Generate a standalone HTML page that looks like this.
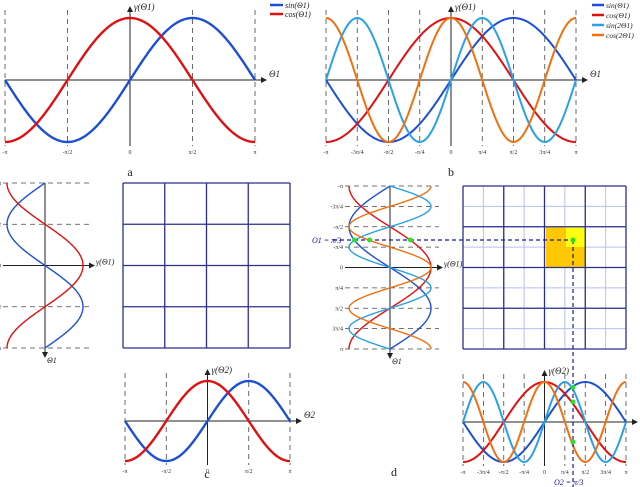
<!DOCTYPE html>
<html><head><meta charset="utf-8"><style>
body{margin:0;background:#fff;width:640px;height:487px;overflow:hidden}
svg{display:block;font-family:"Liberation Serif",serif}
</style></head><body>
<svg id="s" width="640" height="487" viewBox="0 0 640 487"></svg>
<script>
const ticks5=["-π","-π/2","0","π/2","π"];
const ticks9=["-π","-3π/4","-π/2","-π/4","0","π/4","π/2","3π/4","π"];
const seriesNames=["sin(Θ1)","cos(Θ1)","sin(2Θ1)","cos(2Θ1)"];
const seriesColors=["#1d4fd6","#e01010","#2aa0e8","#f07010"];
const freqs=[1,1,2,2];
const phase=["sin","cos","sin","cos"];
const selTheta=Math.PI/3;
const S=document.getElementById('s');const NS="http://www.w3.org/2000/svg";
function el(t,a,p){const e=document.createElementNS(NS,t);for(const k in a)e.setAttribute(k,a[k]);(p||S).appendChild(e);return e;}
function f(i,t){return phase[i]=="sin"?Math.sin(freqs[i]*t):Math.cos(freqs[i]*t);}
function txt(x,y,s,sz,col,anchor){const e=el('text',{x:x,y:y,'font-size':sz,fill:col||'#222','text-anchor':anchor||'middle','font-style':'italic'});e.textContent=s;return e;}
function plotH(name,x0,x1,y0,amp,n,ticks,yl,xl){
 const g=el('g',{});
 const X=t=>x0+(t+Math.PI)/(2*Math.PI)*(x1-x0);const Y=v=>y0-v*amp;
 ticks.forEach((tk,k)=>{const t=-Math.PI+k*2*Math.PI/(ticks.length-1);const x=X(t);
  if(Math.abs(t)>1e-6)el('line',{x1:x,x2:x,y1:y0-amp-8,y2:y0+amp+4,stroke:'#444','stroke-dasharray':'5,4','stroke-width':0.8},g);
  const e=txt(x,y0+amp+12,tk,6,'#333');e.setAttribute('font-style','normal');g.appendChild(e);});
 el('line',{x1:x0,x2:x1+10,y1:y0,y2:y0,stroke:'#222','stroke-width':1},g);
 el('line',{x1:X(0),x2:X(0),y1:y0+amp+4,y2:y0-amp-10,stroke:'#222','stroke-width':1},g);
 el('path',{d:`M${x1+12},${y0} l-6,-3 v6z`,fill:'#222'},g);
 el('path',{d:`M${X(0)},${y0-amp-12} l-3,6 h6z`,fill:'#222'},g);
 g.appendChild(txt(X(0)+4,y0-amp-8,yl,9,'#222','start'));
 g.appendChild(txt(x1+14,y0-3,xl,9,'#222','start'));
 for(let i=0;i<n;i++){let d='';for(let j=0;j<=200;j++){const t=-Math.PI+j*2*Math.PI/200;d+=(j?'L':'M')+X(t).toFixed(2)+','+Y(f(i,t)).toFixed(2);}
  const p=el('path',{d:d,fill:'none',stroke:seriesColors[i],'stroke-width':n>2?2:2.4},g);}
 return {X,Y,g};
}
function plotV(name,y0,y1,x0,amp,n,ticks){
 const g=el('g',{});
 const Yt=t=>y0+(t+Math.PI)/(2*Math.PI)*(y1-y0);const Xv=v=>x0+v*amp;
 ticks.forEach((tk,k)=>{const t=-Math.PI+k*2*Math.PI/(ticks.length-1);const y=Yt(t);
  if(Math.abs(t)>1e-6)el('line',{x1:x0-amp-4,x2:x0+amp+8,y1:y,y2:y,stroke:'#444','stroke-dasharray':'5,4','stroke-width':0.8},g);
  const e=txt(x0-amp-6,y+2,tk,6,'#333','end');e.setAttribute('font-style','normal');g.appendChild(e);});
 el('line',{x1:x0-amp-4,x2:x0+amp+10,y1:Yt(0),y2:Yt(0),stroke:'#222'},g);
 el('line',{x1:x0,x2:x0,y1:y0,y2:y1+8,stroke:'#222'},g);
 el('path',{d:`M${x0+amp+12},${Yt(0)} l-6,-3 v6z`,fill:'#222'},g);
 el('path',{d:`M${x0},${y1+10} l-3,-6 h6z`,fill:'#222'},g);
 g.appendChild(txt(x0+amp+13,Yt(0)-1,'γ(Θ1)',8,'#222','start'));
 g.appendChild(txt(x0+2,y1+15,'Θ1',8,'#222','start'));
 for(let i=0;i<n;i++){let d='';for(let j=0;j<=200;j++){const t=-Math.PI+j*2*Math.PI/200;d+=(j?'L':'M')+Xv(f(i,t)).toFixed(2)+','+Yt(t).toFixed(2);}
  const p=el('path',{d:d,fill:'none',stroke:seriesColors[i],'stroke-width':1.4},g);}
 return {Yt,Xv,g};
}
function grid(name,x0,y0,w,h,fine){
 const g=el('g',{});
 if(fine)for(let k=1;k<8;k++){el('line',{x1:x0+k*w/8,x2:x0+k*w/8,y1:y0,y2:y0+h,stroke:'#b8bff0'},g);el('line',{y1:y0+k*h/8,y2:y0+k*h/8,x1:x0,x2:x0+w,stroke:'#b8bff0'},g);}
 return g;
}
function gridDark(g,x0,y0,w,h){for(let k=0;k<=4;k++){el('line',{x1:x0+k*w/4,x2:x0+k*w/4,y1:y0,y2:y0+h,stroke:'#2a2f8f','stroke-width':1.3},g);el('line',{y1:y0+k*h/4,y2:y0+k*h/4,x1:x0,x2:x0+w,stroke:'#2a2f8f','stroke-width':1.3},g);}}
plotH('panel-a',5,255,80,62,2,ticks5,'γ(Θ1)','Θ1');
txt(130,176,'a',12,'#222').setAttribute('font-style','normal');
[0,1].forEach(i=>{el('line',{x1:270,x2:283,y1:5+i*9,y2:5+i*9,stroke:seriesColors[i],'stroke-width':2.5});txt(285,8+i*9,seriesNames[i],8,'#222','start');});
plotH('panel-b',326,576,80,62,4,ticks9,'γ(Θ1)','Θ1');
txt(451,176,'b',12,'#222').setAttribute('font-style','normal');
[0,1,2,3].forEach(i=>{el('line',{x1:592,x2:604,y1:5+i*10,y2:5+i*10,stroke:seriesColors[i],'stroke-width':2.5});txt(606,8+i*10,seriesNames[i],7.5,'#222','start');});
plotV('panel-c-left',183,348,45,38,2,ticks5);
const gc=grid('grid-c',123,183,167,165,false);gridDark(gc,123,183,167,165);
plotH('panel-c-bottom',125,290,421,40,2,ticks5,'γ(Θ2)','Θ2');
txt(207,478,'c',12,'#222').setAttribute('font-style','normal');
const vd=plotV('panel-d-left',186,349,390,41,4,ticks9);
const gd=grid('grid-d',463,186,163,163,true);
el('rect',{x:546,y:227,width:40,height:40,fill:'#ffc800'},gd);
el('rect',{x:566,y:227,width:20,height:20,fill:'#ffff10'},gd);
gridDark(gd,463,186,163,163);
const hd=plotH('panel-d-bottom',463,626,422,40,4,ticks9,'γ(Θ2)','Θ2');
const yy=240,xx=573;
el('line',{x1:333,x2:xx,y1:yy,y2:yy,stroke:'#1a1a9a','stroke-dasharray':'4,3','stroke-width':1.2});
el('line',{x1:xx,x2:xx,y1:yy,y2:487,stroke:'#1a1a9a','stroke-dasharray':'4,3','stroke-width':1.2});
el('circle',{cx:xx,cy:yy,r:2.5,fill:'#2ee02e'});
[0,1,3].forEach(i=>el('circle',{cx:vd.Xv(f(i,-selTheta)),cy:yy,r:2.5,fill:'#2ee02e'}));
[0,1,3].forEach(i=>el('circle',{cx:xx,cy:hd.Y(f(i,selTheta)),r:2.5,fill:'#2ee02e'}));
txt(312,243,'O1 = π/3',8,'#1a1a9a','start');
txt(554,485,'O2 = π/3',8,'#1a1a9a','start');
txt(394,476,'d',12,'#222').setAttribute('font-style','normal');
</script>
</body></html>
